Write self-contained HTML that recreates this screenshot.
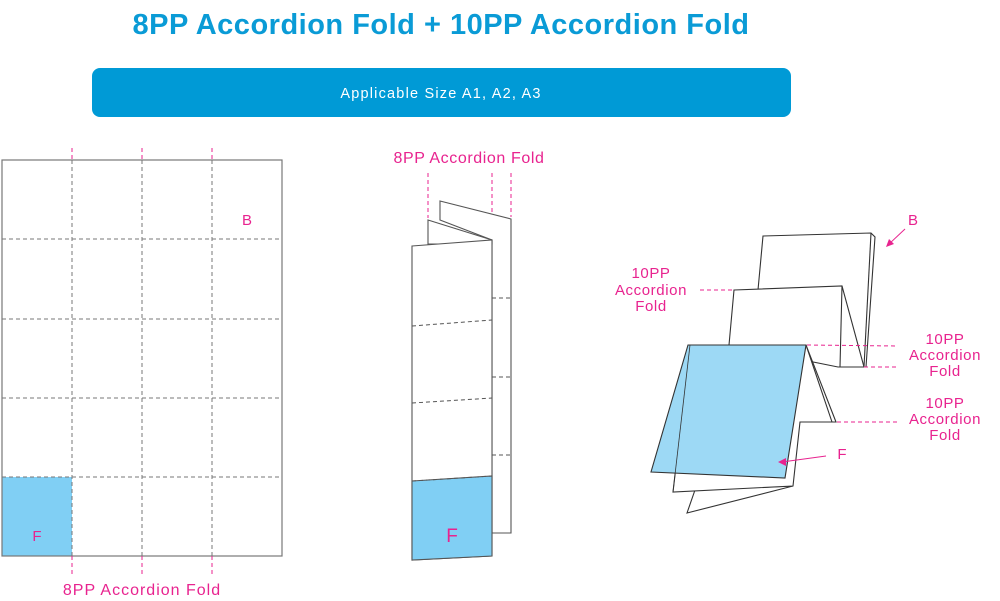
<!DOCTYPE html>
<html><head><style>
body{margin:0;background:#fff;width:1000px;height:601px;overflow:hidden}
svg{display:block}
text{font-family:"Liberation Sans",sans-serif}
</style></head><body>
<svg width="1000" height="601" viewBox="0 0 1000 601">
<text x="441" y="34" text-anchor="middle" font-size="29" fill="#0a9bd6" letter-spacing="0.5" font-weight="bold">8PP Accordion Fold + 10PP Accordion Fold</text>
<rect x="92" y="68" width="699" height="49" rx="8" fill="#009ad6"/>
<text x="441" y="98" text-anchor="middle" font-size="14.5" fill="#fff" letter-spacing="1.2">Applicable Size A1, A2, A3</text>

<!-- left sheet -->
<rect x="2" y="477" width="70" height="79" fill="#80cff4"/>
<rect x="2" y="160" width="280" height="396" fill="none" stroke="#777" stroke-width="1.2"/>
<g stroke="#777" stroke-dasharray="4,3" stroke-width="1">
<line x1="2" y1="239" x2="282" y2="239"/><line x1="2" y1="319" x2="282" y2="319"/>
<line x1="2" y1="398" x2="282" y2="398"/><line x1="2" y1="477" x2="282" y2="477"/>
<line x1="72" y1="160" x2="72" y2="556"/><line x1="142" y1="160" x2="142" y2="556"/><line x1="212" y1="160" x2="212" y2="556"/>
</g>
<g stroke="#e8238f" stroke-dasharray="4,3" stroke-width="1">
<line x1="72" y1="148" x2="72" y2="160"/><line x1="142" y1="148" x2="142" y2="160"/><line x1="212" y1="148" x2="212" y2="160"/>
<line x1="72" y1="556" x2="72" y2="576"/><line x1="142" y1="556" x2="142" y2="576"/><line x1="212" y1="556" x2="212" y2="576"/>
</g>
<text x="247" y="225" text-anchor="middle" font-size="15" fill="#e8238f">B</text>
<text x="37" y="541" text-anchor="middle" font-size="15" fill="#e8238f">F</text>
<text x="142" y="595" text-anchor="middle" font-size="16" fill="#e8238f" letter-spacing="1">8PP Accordion Fold</text>

<!-- middle -->
<text x="469" y="163" text-anchor="middle" font-size="16" fill="#e8238f" letter-spacing="0.6">8PP Accordion Fold</text>
<g stroke="#e8238f" stroke-dasharray="4,3"><line x1="428" y1="173" x2="428" y2="218"/><line x1="492" y1="173" x2="492" y2="238"/><line x1="511" y1="173" x2="511" y2="217"/></g>
<g fill="#fff" stroke="#555" stroke-width="1.1">
<polygon points="440,201 511,219 511,533 492,533 492,240 440,220"/>
<polygon points="428,220 492,240 492,244 428,244"/>
<polygon points="412,246 492,240 492,556 412,560" />
</g>
<polygon points="412,481 492,476 492,556 412,560" fill="#80cff4" stroke="#555" stroke-width="1.1"/>
<g stroke="#555" stroke-dasharray="4,3"><line x1="412" y1="326" x2="492" y2="320"/><line x1="412" y1="403" x2="492" y2="398"/><line x1="412" y1="481" x2="492" y2="476"/>
<line x1="492" y1="298" x2="511" y2="298"/><line x1="492" y1="377" x2="511" y2="377"/><line x1="492" y1="455" x2="511" y2="455"/></g>
<text x="452" y="542" text-anchor="middle" font-size="19" fill="#e8238f">F</text>

<!-- right -->
<g fill="#fff" stroke="#333" stroke-width="1.1">
<polygon points="763,236 871,233 875,237 866,367 864,367 758,290"/>
<line x1="871" y1="233" x2="864" y2="367"/>
<polygon points="734,290 842,286 864,367 838,367 729,345"/>
<polyline points="842,286 840,367 838,367" fill="none"/>
<polygon points="687,513 695,490 793,486" />
<polygon points="690,345 806,345 836,422 800,422 793,486 673,492"/>
<polyline points="806,345 832,422" fill="none"/>
</g>
<polygon points="688,345 806,345 785,478 651,472" fill="#9dd9f5" stroke="#333" stroke-width="1.1"/>
<line x1="690" y1="345" x2="673" y2="492" stroke="#333" stroke-width="0.8"/>
<g stroke="#e8238f" stroke-dasharray="4,3"><line x1="700" y1="290" x2="733" y2="290"/><line x1="807" y1="345" x2="898" y2="346"/><line x1="864" y1="367" x2="898" y2="367"/><line x1="837" y1="422" x2="898" y2="422"/></g>
<g stroke="#e8238f" fill="#e8238f"><line x1="826" y1="456" x2="782" y2="462"/><polygon points="778,462 786,458 786,466" stroke="none"/>
<line x1="905" y1="229" x2="889" y2="244"/><polygon points="886,247 889,239 894,244" stroke="none"/></g>
<text x="842" y="459" text-anchor="middle" font-size="15" fill="#e8238f">F</text>
<text x="913" y="225" text-anchor="middle" font-size="15" fill="#e8238f">B</text>
<g font-size="15" fill="#e8238f" text-anchor="middle" letter-spacing="0.6">
<text x="651" y="278">10PP</text><text x="651" y="295">Accordion</text><text x="651" y="311">Fold</text>
<text x="945" y="344">10PP</text><text x="945" y="360">Accordion</text><text x="945" y="376">Fold</text>
<text x="945" y="408">10PP</text><text x="945" y="424">Accordion</text><text x="945" y="440">Fold</text>
</g>
</svg>
</body></html>
